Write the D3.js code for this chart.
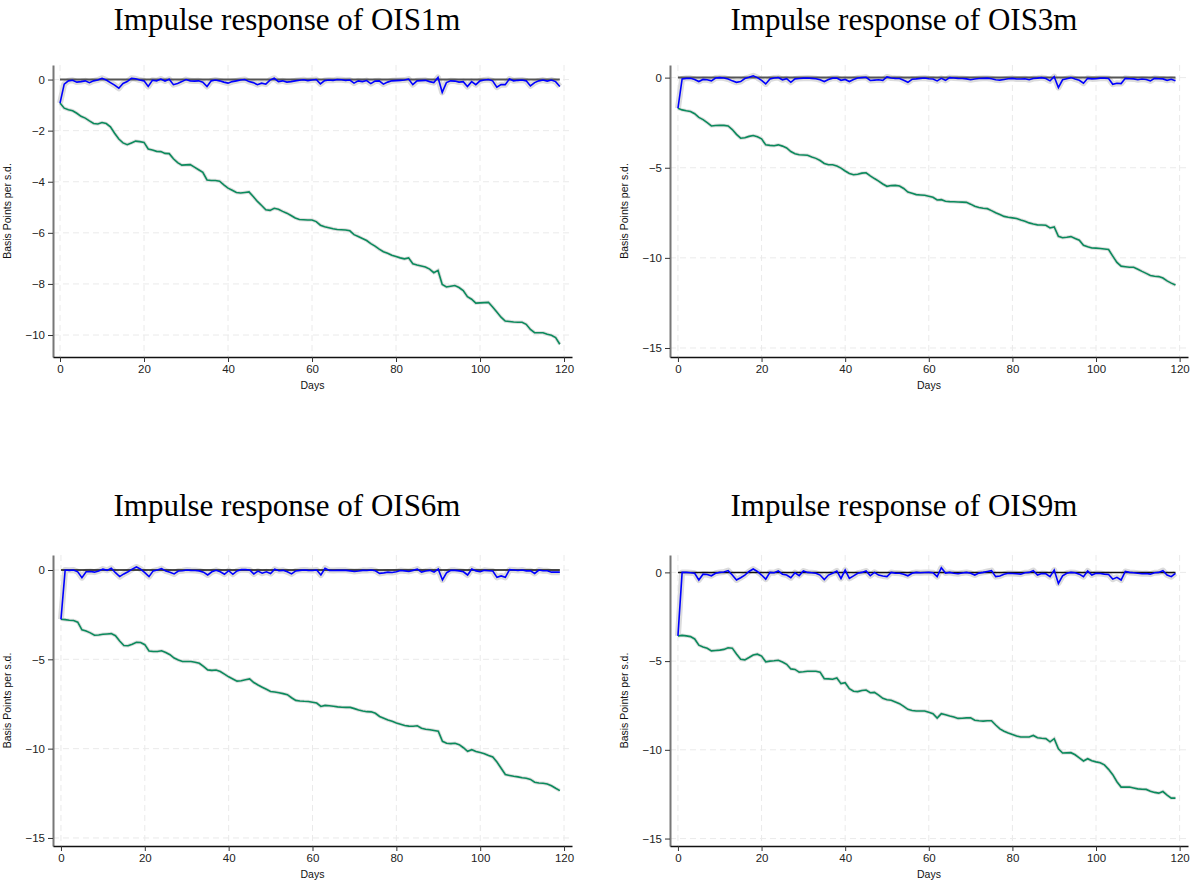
<!DOCTYPE html>
<html>
    <head>
        <meta charset="utf-8" />
        <title>Impulse responses of OIS rates</title>
        <style>
            body { margin: 0; background: #fff; }
        </style>
    </head>
    <body>
    <script src="https://cdnjs.cloudflare.com/ajax/libs/d3/7.8.5/d3.min.js"></script>
    <script>
        var width = 1192,
            height = 883;

        // panel titles and tick labels
        var titles = ['Impulse response of OIS1m', 'Impulse response of OIS3m',
                      'Impulse response of OIS6m', 'Impulse response of OIS9m'];
        var xTicks = [0, 20, 40, 60, 80, 100, 120];
        var yTicks1 = [0, -2, -4, -6, -8, -10];
        var yTicks2 = [0, -5, -10, -15];

        // day 0..119, responses in basis points per s.d.
        var green1 = [-0.92,-1.12,-1.18,-1.22,-1.32,-1.44,-1.51,-1.62,-1.72,-1.74,
            -1.68,-1.72,-1.85,-2.10,-2.33,-2.48,-2.55,-2.48,-2.41,-2.43,
            -2.46,-2.72,-2.76,-2.81,-2.82,-2.89,-2.90,-3.10,-3.25,-3.35,
            -3.34,-3.33,-3.43,-3.53,-3.63,-3.93,-3.95,-3.95,-3.98,-4.12,
            -4.25,-4.33,-4.42,-4.44,-4.42,-4.40,-4.58,-4.77,-4.93,-5.10,
            -5.12,-5.04,-5.08,-5.16,-5.23,-5.32,-5.42,-5.48,-5.49,-5.50,
            -5.50,-5.56,-5.70,-5.76,-5.80,-5.84,-5.87,-5.88,-5.89,-5.92,
            -6.07,-6.14,-6.22,-6.30,-6.42,-6.52,-6.64,-6.74,-6.80,-6.88,
            -6.93,-6.98,-7.02,-6.98,-7.21,-7.26,-7.30,-7.34,-7.42,-7.56,
            -7.47,-8.02,-8.12,-8.09,-8.06,-8.14,-8.26,-8.50,-8.60,-8.75,
            -8.74,-8.73,-8.72,-8.90,-9.10,-9.30,-9.45,-9.47,-9.49,-9.50,
            -9.50,-9.58,-9.78,-9.91,-9.91,-9.91,-9.97,-10.01,-10.10,-10.36];
        var blue1 = [-0.92,-0.18,-0.05,-0.03,-0.10,-0.08,-0.05,-0.12,-0.05,-0.02,
            0.05,-0.02,-0.12,-0.22,-0.34,-0.15,-0.08,0.05,0.03,-0.02,
            -0.05,-0.27,-0.03,-0.05,0.02,-0.06,0.01,-0.20,-0.15,-0.08,
            0.00,-0.05,-0.06,-0.05,-0.10,-0.27,-0.05,-0.02,-0.05,-0.10,
            -0.14,-0.08,-0.05,-0.02,0.00,-0.08,-0.12,-0.20,-0.14,-0.18,
            -0.02,0.05,-0.08,-0.05,-0.10,-0.08,-0.05,-0.03,-0.01,-0.04,
            -0.02,0.00,-0.17,-0.04,-0.02,-0.03,0.00,-0.01,-0.03,-0.02,
            -0.14,-0.05,-0.08,-0.04,-0.16,-0.06,-0.05,-0.18,-0.10,-0.05,
            -0.04,-0.03,-0.02,0.02,-0.20,-0.05,-0.04,-0.03,-0.08,-0.12,
            0.08,-0.50,-0.12,-0.05,-0.06,-0.10,-0.08,-0.27,-0.08,-0.20,
            -0.05,-0.02,0.00,-0.05,-0.30,-0.20,-0.20,0.02,-0.05,-0.03,
            -0.02,-0.05,-0.25,-0.12,-0.05,-0.02,-0.06,-0.02,-0.08,-0.27];

        var green2 = [-1.70,-1.79,-1.84,-1.88,-2.00,-2.21,-2.33,-2.50,-2.68,-2.66,
            -2.64,-2.65,-2.68,-2.88,-3.15,-3.36,-3.34,-3.26,-3.21,-3.28,
            -3.40,-3.73,-3.76,-3.78,-3.73,-3.80,-3.90,-4.10,-4.22,-4.28,
            -4.29,-4.31,-4.40,-4.48,-4.60,-4.76,-4.83,-4.83,-4.90,-5.02,
            -5.18,-5.32,-5.39,-5.36,-5.30,-5.28,-5.45,-5.60,-5.74,-5.90,
            -6.03,-5.99,-5.98,-6.01,-6.15,-6.35,-6.42,-6.49,-6.51,-6.53,
            -6.58,-6.64,-6.79,-6.77,-6.86,-6.88,-6.89,-6.90,-6.91,-6.92,
            -7.02,-7.14,-7.21,-7.25,-7.27,-7.38,-7.50,-7.60,-7.70,-7.75,
            -7.78,-7.82,-7.90,-7.97,-8.06,-8.12,-8.17,-8.18,-8.19,-8.34,
            -8.28,-8.80,-8.88,-8.86,-8.82,-8.92,-9.02,-9.30,-9.38,-9.45,
            -9.46,-9.48,-9.51,-9.54,-9.90,-10.25,-10.46,-10.49,-10.52,-10.52,
            -10.63,-10.75,-10.86,-10.98,-11.02,-11.04,-11.12,-11.28,-11.40,-11.51];
        var blue2 = [-1.70,-0.07,-0.04,-0.04,-0.10,-0.22,-0.10,-0.12,-0.18,-0.02,
            0.00,-0.02,-0.08,-0.18,-0.26,-0.22,-0.05,0.02,0.10,0.00,
            -0.15,-0.35,-0.08,-0.02,0.00,-0.12,-0.06,-0.26,-0.07,-0.05,
            -0.03,-0.02,-0.04,-0.06,-0.12,-0.22,-0.10,-0.03,-0.02,-0.15,
            -0.10,-0.22,-0.10,-0.02,0.00,0.02,-0.16,-0.14,-0.12,-0.15,
            0.04,-0.02,-0.04,-0.05,-0.15,-0.26,-0.09,-0.07,-0.04,-0.02,
            -0.06,-0.08,-0.18,-0.04,-0.15,0.00,-0.02,-0.04,-0.05,-0.07,
            -0.12,-0.08,-0.05,-0.04,-0.03,-0.06,-0.12,-0.14,-0.10,-0.06,
            -0.04,-0.08,-0.08,-0.06,-0.12,-0.05,-0.03,0.00,-0.05,-0.18,
            0.05,-0.55,-0.12,-0.06,0.00,-0.08,-0.15,-0.31,-0.04,-0.07,
            -0.06,-0.03,-0.03,-0.05,-0.37,-0.31,-0.33,-0.04,-0.06,-0.07,
            -0.12,-0.08,-0.10,-0.18,-0.04,-0.06,-0.07,-0.15,-0.09,-0.18];

        var green3 = [-2.76,-2.78,-2.81,-2.83,-2.92,-3.35,-3.42,-3.52,-3.65,-3.64,
            -3.60,-3.58,-3.56,-3.68,-3.98,-4.23,-4.24,-4.15,-4.05,-4.06,
            -4.18,-4.53,-4.56,-4.56,-4.52,-4.62,-4.74,-4.93,-5.04,-5.12,
            -5.12,-5.12,-5.16,-5.22,-5.40,-5.59,-5.62,-5.60,-5.68,-5.83,
            -5.98,-6.10,-6.22,-6.20,-6.14,-6.10,-6.30,-6.44,-6.56,-6.68,
            -6.80,-6.83,-6.87,-6.92,-6.98,-7.15,-7.30,-7.33,-7.35,-7.36,
            -7.40,-7.45,-7.64,-7.58,-7.60,-7.63,-7.66,-7.68,-7.69,-7.69,
            -7.76,-7.84,-7.89,-7.93,-7.94,-8.02,-8.20,-8.30,-8.40,-8.47,
            -8.56,-8.63,-8.70,-8.74,-8.75,-8.72,-8.86,-8.91,-8.94,-8.98,
            -9.03,-9.59,-9.70,-9.72,-9.70,-9.78,-9.95,-10.15,-10.06,-10.16,
            -10.22,-10.28,-10.38,-10.47,-10.75,-11.10,-11.45,-11.50,-11.55,-11.58,
            -11.63,-11.66,-11.72,-11.88,-11.92,-11.94,-11.98,-12.08,-12.22,-12.35];
        var blue3 = [-2.76,0.00,-0.02,0.00,-0.10,-0.43,-0.10,-0.08,-0.12,-0.05,
            0.05,-0.02,0.10,-0.15,-0.37,-0.22,-0.10,0.05,0.17,0.05,
            -0.15,-0.37,-0.05,0.00,0.08,-0.06,-0.12,-0.22,-0.06,-0.04,
            0.00,-0.02,-0.03,-0.05,-0.12,-0.28,-0.10,-0.02,-0.10,-0.24,
            -0.04,-0.24,-0.05,0.02,0.02,0.00,-0.22,-0.06,-0.18,-0.10,
            -0.20,0.04,-0.04,-0.02,-0.10,-0.22,-0.05,-0.02,0.00,-0.02,
            -0.03,0.00,-0.28,0.10,-0.02,-0.03,-0.02,-0.01,-0.02,-0.05,
            -0.08,-0.06,-0.02,-0.03,0.00,-0.04,-0.19,-0.16,-0.12,-0.14,
            -0.10,-0.03,-0.05,-0.08,-0.02,0.05,-0.12,-0.06,-0.02,-0.12,
            0.05,-0.56,-0.15,-0.02,-0.02,-0.05,-0.10,-0.28,0.05,-0.05,
            -0.10,-0.02,-0.04,-0.06,-0.41,-0.33,-0.41,0.02,0.00,-0.03,
            0.00,-0.05,-0.04,-0.19,0.00,-0.04,-0.04,-0.12,-0.12,-0.12];

        var green4 = [-3.58,-3.55,-3.58,-3.62,-3.75,-4.10,-4.20,-4.28,-4.42,-4.40,
            -4.38,-4.34,-4.25,-4.27,-4.60,-4.90,-4.93,-4.80,-4.66,-4.61,
            -4.72,-5.04,-5.00,-4.98,-4.95,-5.05,-5.18,-5.44,-5.47,-5.62,
            -5.60,-5.57,-5.57,-5.57,-5.62,-5.99,-6.00,-6.02,-5.95,-6.27,
            -6.22,-6.55,-6.70,-6.72,-6.66,-6.63,-6.78,-6.76,-6.92,-7.10,
            -7.18,-7.21,-7.30,-7.40,-7.55,-7.72,-7.78,-7.81,-7.81,-7.81,
            -7.88,-7.96,-8.21,-7.96,-8.02,-8.09,-8.15,-8.23,-8.22,-8.20,
            -8.19,-8.33,-8.36,-8.38,-8.36,-8.36,-8.60,-8.82,-8.95,-9.05,
            -9.13,-9.22,-9.28,-9.28,-9.28,-9.19,-9.32,-9.35,-9.37,-9.55,
            -9.37,-9.94,-10.18,-10.17,-10.16,-10.28,-10.45,-10.63,-10.50,-10.62,
            -10.68,-10.73,-10.85,-11.10,-11.40,-11.80,-12.10,-12.10,-12.10,-12.15,
            -12.20,-12.22,-12.23,-12.33,-12.40,-12.44,-12.35,-12.55,-12.72,-12.72];
        var blue4 = [-3.58,0.00,0.00,-0.02,-0.05,-0.43,-0.10,-0.12,-0.19,-0.05,
            0.00,0.02,0.10,-0.15,-0.43,-0.30,-0.15,0.05,0.19,0.05,
            -0.15,-0.38,0.00,-0.02,0.08,-0.10,-0.15,-0.30,-0.02,-0.18,
            0.08,0.00,-0.02,-0.05,-0.15,-0.40,-0.15,-0.05,0.08,-0.34,
            0.13,-0.34,-0.20,-0.05,0.00,0.08,-0.19,0.00,-0.15,-0.20,
            -0.24,0.00,-0.04,-0.05,-0.10,-0.19,-0.05,0.00,-0.02,-0.01,
            0.00,-0.02,-0.24,0.26,-0.04,0.00,-0.05,-0.08,-0.03,0.00,
            -0.05,-0.15,-0.04,0.00,0.05,0.10,-0.24,-0.20,-0.10,-0.05,
            -0.06,-0.08,-0.10,-0.02,0.00,0.10,-0.15,-0.06,-0.08,-0.24,
            0.13,-0.62,-0.20,-0.05,0.00,-0.02,-0.10,-0.24,0.08,-0.15,
            -0.05,-0.06,-0.10,-0.12,-0.38,-0.28,-0.43,0.05,0.00,-0.02,
            -0.05,-0.08,-0.06,-0.10,-0.02,0.00,0.10,-0.15,-0.24,-0.05];

        // layout of each panel (pixel box + axis extents)
        var panels = [
            {title: titles[0], green: green1, blue: blue1, yTicks: yTicks1,
             left: 53, right: 572, top: 65, bottom: 357, tx: 287, ty: 30,
             xDom: [-1.67, 121.9], yDom: [-10.86, 0.57], zero: '#555', zeroW: 2},
            {title: titles[1], green: green2, blue: blue2, yTicks: yTicks2,
             left: 670, right: 1188, top: 65, bottom: 357, tx: 904, ty: 30,
             xDom: [-1.9, 122.0], yDom: [-15.5, 0.7], zero: '#555', zeroW: 2},
            {title: titles[2], green: green3, blue: blue3, yTicks: yTicks2,
             left: 53, right: 572, top: 555, bottom: 846, tx: 287, ty: 516,
             xDom: [-1.9, 121.9], yDom: [-15.45, 0.84], zero: '#111', zeroW: 1.5},
            {title: titles[3], green: green4, blue: blue4, yTicks: yTicks2,
             left: 670, right: 1188, top: 555, bottom: 846, tx: 904, ty: 516,
             xDom: [-1.9, 122.0], yDom: [-15.42, 0.98], zero: '#111', zeroW: 1.5}
        ];

        var svg = d3.select('body').append('svg')
                    .attr('width', width)
                    .attr('height', height)
                    .style('font-family', '"Liberation Sans", Arial, sans-serif');

        panels.forEach(function(p) {
            var x = d3.scaleLinear().domain(p.xDom).range([p.left, p.right]);
            var y = d3.scaleLinear().domain(p.yDom).range([p.bottom, p.top]);
            var g = svg.append('g');

            // dashed grid
            g.selectAll('.vgrid').data(xTicks)
                .enter().append('line')
                .attr('x1', function(d) { return x(d); })
                .attr('x2', function(d) { return x(d); })
                .attr('y1', p.top).attr('y2', p.bottom)
                .attr('stroke', '#eaeaea').attr('stroke-dasharray', '6,4');
            g.selectAll('.hgrid').data(p.yTicks)
                .enter().append('line')
                .attr('x1', p.left).attr('x2', p.right)
                .attr('y1', function(d) { return y(d); })
                .attr('y2', function(d) { return y(d); })
                .attr('stroke', '#eaeaea').attr('stroke-dasharray', '6,4');

            var line = d3.line()
                .x(function(d, i) { return x(i); })
                .y(function(d) { return y(d); });

            // confidence bands (drawn as a soft halo behind each line)
            g.append('path').datum(p.green).attr('d', line)
                .attr('fill', 'none').attr('stroke', '#dedede').attr('stroke-width', 3.5);
            g.append('path').datum(p.blue).attr('d', line)
                .attr('fill', 'none').attr('stroke', '#dcdcdc').attr('stroke-width', 6)
                .attr('stroke-linejoin', 'round');

            // zero line
            g.append('line')
                .attr('x1', x(0)).attr('x2', x(119))
                .attr('y1', y(0)).attr('y2', y(0))
                .attr('stroke', p.zero).attr('stroke-width', p.zeroW);

            g.append('path').datum(p.green).attr('d', line)
                .attr('fill', 'none').attr('stroke', '#0b8a5c').attr('stroke-width', 1.6);
            g.append('path').datum(p.blue).attr('d', line)
                .attr('fill', 'none').attr('stroke', '#0000ff').attr('stroke-width', 1.6);

            // axes
            var ya = g.append('g')
                .attr('transform', 'translate(' + p.left + ',0)')
                .call(d3.axisLeft(y).tickValues(p.yTicks).tickSize(5).tickSizeOuter(0).tickPadding(3));
            ya.select('.domain').attr('stroke', '#777').attr('stroke-width', 2);
            ya.selectAll('.tick line').attr('stroke', '#333');
            ya.selectAll('text').attr('font-size', 11.5).attr('fill', '#222')
                .style('font-family', '"Liberation Sans", Arial, sans-serif');

            var xa = g.append('g')
                .attr('transform', 'translate(0,' + p.bottom + ')')
                .call(d3.axisBottom(x).tickValues(xTicks).tickSize(5).tickSizeOuter(0).tickPadding(3));
            xa.select('.domain').attr('stroke', '#111').attr('stroke-width', 1.5);
            xa.selectAll('.tick line').attr('stroke', '#333');
            xa.selectAll('text').attr('font-size', 11.5).attr('fill', '#222')
                .style('font-family', '"Liberation Sans", Arial, sans-serif');

            // axis titles
            g.append('text')
                .attr('x', (p.left + p.right) / 2)
                .attr('y', p.bottom + 32)
                .attr('text-anchor', 'middle')
                .attr('font-size', 10.5)
                .attr('fill', '#111')
                .text('Days');
            g.append('text')
                .attr('transform', 'translate(' + (p.left - 42) + ',' + ((p.top + p.bottom) / 2) + ') rotate(-90)')
                .attr('text-anchor', 'middle')
                .attr('font-size', 10.5)
                .attr('fill', '#111')
                .text('Basis Points per s.d.');

            // panel title
            g.append('text')
                .attr('x', p.tx).attr('y', p.ty)
                .attr('text-anchor', 'middle')
                .attr('font-size', 31)
                .style('font-family', '"Liberation Serif", "Times New Roman", serif')
                .attr('fill', '#000')
                .text(p.title);
        });
    </script>
    </body>
</html>
